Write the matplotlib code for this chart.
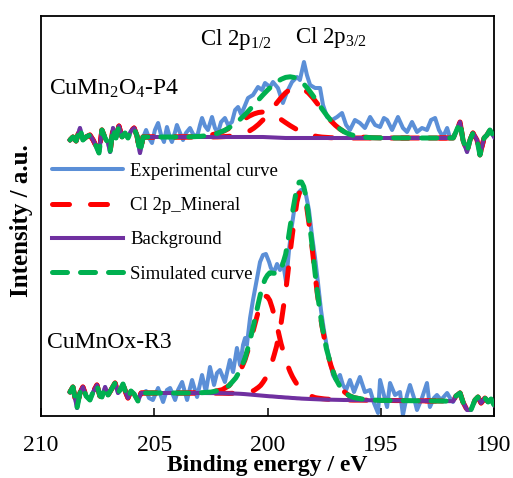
import numpy as np
import matplotlib
matplotlib.use('Agg')
import matplotlib.pyplot as plt
from matplotlib.lines import Line2D

plt.rcParams['font.family'] = ['Liberation Serif', 'DejaVu Serif']
plt.rcParams['mathtext.fontset'] = 'custom'
plt.rcParams['mathtext.rm'] = 'Liberation Serif'
plt.rcParams['mathtext.it'] = 'Liberation Serif:italic'
plt.rcParams['mathtext.bf'] = 'Liberation Serif:bold'

# ---------------- data: CuMn2O4-P4 (upper spectrum) ----------------
p4_left_e = [208.72, 208.59, 208.45, 208.28, 208.15, 208.01, 207.84, 207.70, 207.57, 207.44,
             207.31, 207.17, 207.04, 206.95, 206.82, 206.69, 206.56, 206.42, 206.29, 206.16,
             206.03, 205.89, 205.76, 205.63, 205.50]
p4_left_i = [276, 279, 275, 288, 276, 279, 281, 276, 270, 263,
             286, 278, 273, 264, 288, 278, 290, 279, 283, 278,
             285, 288, 280, 263, 278]
p4_mid_e = [205.36, 205.23, 205.10, 204.97, 204.83, 204.70, 204.57, 204.44, 204.30, 204.22,
            204.08, 204.00, 203.86, 203.73, 203.60, 203.42, 203.29, 203.11, 202.98, 202.89,
            202.76, 202.63, 202.45, 202.32, 202.19, 202.05, 201.88, 201.74, 201.57, 201.43,
            201.30, 201.17, 201.04, 200.86, 200.64, 200.42, 200.24, 200.11, 199.89, 199.76,
            199.54, 199.32, 199.14, 198.92, 198.70, 198.57, 198.39, 198.26, 198.12, 197.90,
            197.68, 197.55, 197.37, 197.15, 196.93, 196.71, 196.53, 196.36, 196.14, 195.92,
            195.70, 195.47, 195.25, 195.03, 194.86, 194.72, 194.50, 194.24, 194.02, 193.84,
            193.62, 193.40, 193.18, 192.96, 192.78, 192.60, 192.43, 192.25, 192.07, 191.94,
            191.81]
p4_mid_i = [286, 278, 273, 286, 293, 281, 274, 289, 278, 274,
            284, 291, 283, 276, 283, 288, 282, 279, 291, 298,
            290, 286, 299, 288, 283, 294, 298, 291, 294, 306,
            309, 302, 308, 318, 321, 329, 326, 333, 329, 334,
            328, 313, 324, 334, 339, 336, 354, 341, 331, 328,
            328, 311, 299, 296, 299, 303, 291, 286, 296, 293,
            288, 299, 291, 289, 298, 296, 286, 299, 288, 284,
            294, 284, 288, 286, 296, 298, 286, 279, 288, 278,
            278]
p4_right_e = [191.68, 191.50, 191.37, 191.19, 191.06, 190.93, 190.75, 190.62, 190.44, 190.31,
              190.18, 190.00]
p4_right_i = [284, 294, 276, 264, 276, 283, 276, 261, 278, 281, 286, 279]

p4_fit_e = [205.5, 205.0, 204.5, 204.0, 203.5, 203.0, 202.6, 202.2, 201.9, 201.6,
            201.4, 201.2, 201.0, 200.8, 200.6, 200.4, 200.2, 200.0, 199.8, 199.6,
            199.4, 199.2, 199.0, 198.8, 198.6, 198.4, 198.2, 198.0, 197.8, 197.6,
            197.4, 197.2, 197.0, 196.8, 196.6, 196.4, 196.1, 195.8, 195.4, 195.0,
            194.0, 193.0, 192.4, 191.8]
p4_bg = [279.0, 279.0, 279.0, 279.0, 279.0, 279.0, 279.0, 279.0, 279.0, 279.0,
         279.0, 279.0, 279.0, 279.0, 279.0, 279.0, 279.0, 278.8, 278.6, 278.4,
         278.2, 278.0, 278.0, 278.0, 278.0, 278.0, 278.0, 278.0, 278.0, 278.0,
         278.0, 278.0, 278.0, 278.0, 278.0, 278.0, 278.0, 278.0, 278.0, 278.0,
         278.0, 278.0, 278.0, 278.0]
p4_peak_12 = [279.0, 279.0, 279.0, 279.0, 279.1, 279.6, 280.5, 282.6, 285.2, 288.7,
              291.4, 294.4, 297.3, 300.0, 302.1, 303.5, 304.0, 303.3, 301.7, 299.4,
              296.5, 293.4, 290.4, 287.7, 285.2, 283.2, 281.6, 280.4, 279.5, 278.9,
              278.6, 278.3, 278.2, 278.1, 278.0, 278.0, 278.0, 278.0, 278.0, 278.0,
              278.0, 278.0, 278.0, 278.0]
p4_peak_32 = [279.0, 279.0, 279.0, 279.0, 279.0, 279.0, 279.0, 279.1, 279.4, 279.9,
              280.5, 281.5, 282.9, 285.0, 287.9, 291.6, 296.1, 301.3, 307.0, 312.8,
              318.4, 323.2, 326.8, 328.7, 328.7, 326.8, 323.2, 318.2, 312.4, 306.4,
              300.5, 295.1, 290.6, 286.9, 284.0, 281.9, 279.9, 278.9, 278.3, 278.1,
              278.0, 278.0, 278.0, 278.0]
p4_sim = [279.0, 279.0, 279.0, 279.0, 279.1, 279.6, 280.5, 282.7, 285.6, 289.6,
          292.9, 296.9, 301.2, 306.0, 311.0, 316.1, 321.1, 325.8, 330.1, 333.8,
          336.7, 338.6, 339.2, 338.4, 335.9, 332.0, 326.8, 320.6, 313.9, 307.3,
          301.1, 295.4, 290.8, 287.0, 284.0, 281.9, 279.9, 278.9, 278.3, 278.1,
          278.0, 278.0, 278.0, 278.0]

# ---------------- data: CuMnOx-R3 (lower spectrum) ----------------
r3_left_e = [208.72, 208.59, 208.41, 208.28, 208.15, 208.01, 207.84, 207.70, 207.53, 207.40,
             207.31, 207.17, 207.04, 206.91, 206.73, 206.60, 206.51, 206.38, 206.25, 206.16,
             206.03, 205.89, 205.72, 205.58, 205.50]
r3_left_i = [24, 29, 8, 23, 29, 20, 16, 24, 31, 20,
             19, 29, 21, 26, 33, 23, 26, 32, 23, 18,
             25, 22, 15, 23, 23]
r3_mid_e = [205.36, 205.23, 205.06, 204.83, 204.61, 204.44, 204.30, 204.08, 203.95, 203.77,
            203.55, 203.42, 203.33, 203.11, 202.89, 202.72, 202.54, 202.36, 202.23, 202.10,
            201.88, 201.66, 201.52, 201.35, 201.21, 201.08, 200.99, 200.91, 200.77, 200.64,
            200.46, 200.33, 200.20, 200.07, 199.93, 199.85, 199.71, 199.58, 199.45, 199.32,
            199.18, 199.05, 198.92, 198.79, 198.65, 198.52, 198.39, 198.30, 198.17, 198.04,
            197.90, 197.77, 197.64, 197.51, 197.37, 197.24, 197.11, 196.98, 196.80, 196.67,
            196.53, 196.36, 196.18, 195.92, 195.70, 195.47, 195.30, 195.12, 195.03, 194.86,
            194.72, 194.59, 194.37, 194.15, 194.02, 193.84, 193.71, 193.53, 193.40, 193.18,
            192.96, 192.83, 192.65, 192.52, 192.34, 192.07, 191.94, 191.81]
r3_mid_i = [25, 18, 16, 28, 14, 26, 28, 16, 26, 34,
            16, 28, 36, 19, 41, 24, 49, 31, 43, 46,
            34, 56, 44, 68, 51, 71, 78, 71, 98, 116,
            138, 154, 161, 162, 154, 148, 144, 152, 146, 154,
            134, 166, 191, 211, 223, 226, 227, 221, 206, 181,
            158, 133, 106, 86, 68, 54, 41, 36, 41, 31,
            26, 36, 24, 39, 24, 26, 13, 3, 36, 21,
            9, 33, 21, 24, 1, 21, 31, 18, 6, 18,
            33, 9, 18, 21, 16, 23, 18, 14]
r3_right_e = [191.68, 191.50, 191.37, 191.19, 191.02, 190.84, 190.71, 190.57, 190.40, 190.26,
              190.13, 190.00]
r3_right_i = [20, 23, 14, 6, 6, 16, 19, 13, 18, 14, 17, 11]

r3_fit_e = [205.5, 205.0, 204.5, 204.0, 203.5, 203.0, 202.5, 202.0, 201.7, 201.4,
            201.2, 201.0, 200.8, 200.6, 200.4, 200.3, 200.2, 200.1, 200.0, 199.9,
            199.8, 199.7, 199.6, 199.5, 199.4, 199.3, 199.2, 199.1, 199.0, 198.9,
            198.8, 198.7, 198.6, 198.5, 198.4, 198.3, 198.2, 198.1, 198.0, 197.9,
            197.8, 197.7, 197.6, 197.5, 197.4, 197.2, 197.0, 196.8, 196.6, 196.4,
            196.2, 196.0, 195.6, 195.0, 194.0, 193.0, 192.4, 191.8]
r3_bg = [23.0, 23.0, 23.0, 23.0, 23.0, 23.0, 22.9, 22.8, 22.6, 22.4,
         22.2, 21.9, 21.5, 21.1, 20.7, 20.5, 20.3, 20.1, 19.9, 19.7,
         19.6, 19.4, 19.2, 19.0, 18.9, 18.7, 18.5, 18.4, 18.2, 18.0,
         17.9, 17.7, 17.6, 17.4, 17.3, 17.2, 17.1, 17.0, 16.9, 16.8,
         16.7, 16.6, 16.5, 16.5, 16.4, 16.3, 16.2, 16.1, 16.0, 16.0,
         15.9, 15.9, 15.8, 15.6, 15.4, 15.1, 15.0, 14.8]
r3_peak_12 = [23.0, 23.0, 23.0, 23.0, 23.0, 23.2, 23.9, 26.3, 30.3, 37.7,
              45.2, 55.7, 70.3, 88.0, 105.1, 112.8, 117.9, 120.0, 119.2, 115.6,
              108.7, 100.6, 92.1, 82.0, 72.2, 64.3, 56.1, 49.9, 44.2, 39.4,
              35.4, 31.8, 28.8, 26.0, 24.3, 22.5, 21.2, 20.1, 19.2, 18.4,
              18.0, 17.7, 17.4, 17.1, 16.9, 16.6, 16.2, 16.1, 16.0, 16.0,
              15.9, 15.9, 15.8, 15.6, 15.4, 15.1, 15.0, 14.8]
r3_peak_32 = [23.0, 23.0, 23.0, 23.0, 23.0, 23.0, 22.9, 22.8, 22.6, 22.8,
              23.1, 23.6, 24.1, 25.5, 28.7, 30.7, 33.7, 37.2, 41.5, 47.3,
              53.8, 61.5, 69.7, 81.2, 92.8, 108.4, 124.0, 143.0, 163.5, 182.0,
              198.6, 214.2, 222.7, 225.4, 222.4, 213.7, 197.8, 181.0, 162.2, 141.4,
              122.2, 106.3, 90.4, 78.7, 66.9, 50.5, 37.8, 29.5, 24.0, 20.4,
              18.5, 17.6, 16.2, 15.6, 15.4, 15.1, 15.0, 14.8]
r3_sim = [23.0, 23.0, 23.0, 23.0, 23.0, 23.2, 23.9, 26.3, 30.3, 38.1,
          46.1, 57.4, 72.9, 92.4, 113.1, 123.0, 131.3, 137.1, 140.8, 143.2,
          142.9, 142.7, 142.6, 144.2, 146.1, 154.0, 161.6, 174.5, 189.5, 203.4,
          216.1, 228.3, 233.9, 234.0, 229.4, 219.0, 201.9, 184.1, 164.5, 143.0,
          123.5, 107.4, 91.3, 79.3, 67.4, 50.8, 37.8, 29.5, 24.0, 20.4,
          18.5, 17.6, 16.2, 15.6, 15.4, 15.1, 15.0, 14.8]

legend_labels = ['Experimental curve', 'Cl 2p_Mineral', 'Background', 'Simulated curve']
x_ticks = [210, 205, 200, 195, 190]

# ---------------- styles ----------------
BLUE = '#5B8FD7'
RED = '#FF0000'
PURPLE = '#7030A0'
GREEN = '#00B050'

st_exp = dict(color=BLUE, lw=2.9, solid_joinstyle='round', solid_capstyle='round', zorder=1)
st_red = dict(color=RED, lw=3.6, dashes=(3.4, 4.2), dash_capstyle='round', zorder=2)
st_bg = dict(color=PURPLE, lw=2.9, solid_joinstyle='round', zorder=3)
st_sim = dict(color=GREEN, lw=3.6, dashes=(3.0, 2.6), dash_capstyle='round', zorder=4)

W, H = 513, 478
fig = plt.figure(figsize=(W / 100, H / 100), dpi=100)
ax = fig.add_axes([41 / W, 1 - 416 / H, 453 / W, 400 / H])


def full(left, mid, right):
    return np.concatenate([left, mid, right])


for (le, li, me, mi, re_, ri, fe, bg, c1, c3, sim) in [
        (p4_left_e, p4_left_i, p4_mid_e, p4_mid_i, p4_right_e, p4_right_i,
         p4_fit_e, p4_bg, p4_peak_12, p4_peak_32, p4_sim),
        (r3_left_e, r3_left_i, r3_mid_e, r3_mid_i, r3_right_e, r3_right_i,
         r3_fit_e, r3_bg, r3_peak_12, r3_peak_32, r3_sim)]:
    ax.plot(full(le, me, re_), full(li, mi, ri), **st_exp)
    ax.plot(full(le, fe, re_), full(li, c1, ri), **st_red)
    ax.plot(full(le, fe, re_), full(li, c3, ri), **st_red)
    ax.plot(full(le, fe, re_), full(li, bg, ri), **st_bg)
    ax.plot(full(le, fe, re_), full(li, sim, ri), **st_sim)

ax.set_xlim(210, 190)
ax.set_ylim(0, 400)
ax.set_yticks([])
ax.set_xticks(x_ticks)
ax.set_xticklabels([str(t) for t in x_ticks])
ax.tick_params(axis='x', direction='in', length=6, width=1.1, pad=14, labelsize=17)
for sp in ax.spines.values():
    sp.set_linewidth(1.3)
    sp.set_color('black')

# annotations
ax.text(201.39, 371, r'Cl 2p$_{\mathrm{1/2}}$', fontsize=16.5, ha='center', va='baseline')
ax.text(197.20, 373, r'Cl 2p$_{\mathrm{3/2}}$', fontsize=16.5, ha='center', va='baseline')
ax.text(209.65, 321, r'CuMn$_{\mathrm{2}}$O$_{\mathrm{4}}$-P4', fontsize=17, ha='left', va='baseline')
ax.text(209.74, 68, 'CuMnOx-R3', fontsize=17, ha='left', va='baseline')

handles = [Line2D([], [], **st_exp), Line2D([], [], **st_red),
           Line2D([], [], **st_bg), Line2D([], [], **st_sim)]
ax.legend(handles, legend_labels, loc='upper left', bbox_to_anchor=(0.0243, 0.6335),
          frameon=False, fontsize=13.5, handlelength=3.79, handletextpad=0.37,
          labelspacing=0.92, borderpad=0, borderaxespad=0)

fig.text(267.5 / W, 1 - 471 / H, 'Binding energy / eV', fontsize=17, fontweight='bold',
         ha='center', va='baseline')
fig.text(22 / W, 1 - 221 / H, 'Intensity / a.u.', fontsize=18, fontweight='bold',
         ha='center', va='center', rotation=90)

fig.savefig('out.png', dpi=100)
